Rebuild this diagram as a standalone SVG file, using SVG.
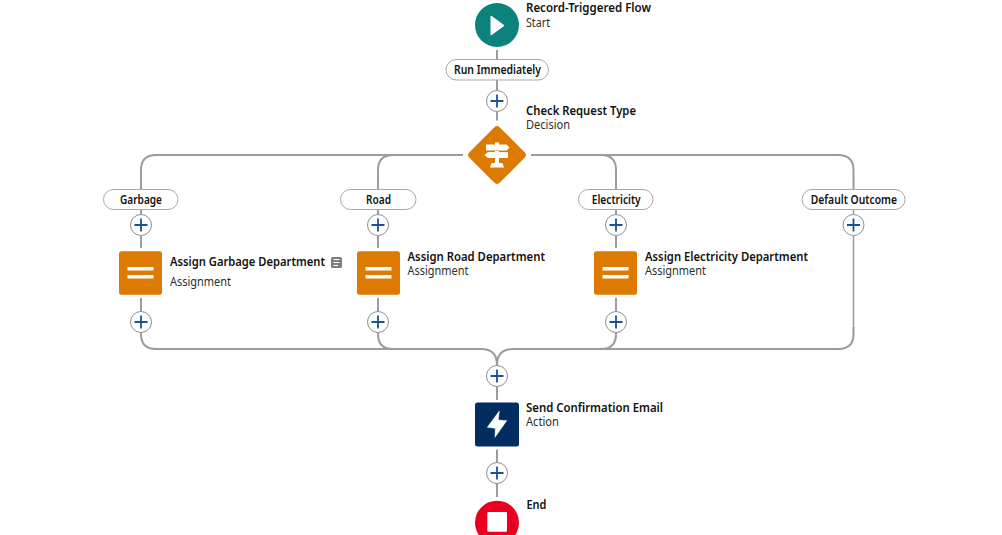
<svg xmlns="http://www.w3.org/2000/svg" width="1002" height="535" viewBox="0 0 1002 535">
<defs>
<style>
text{font-family:"Noto Sans","Open Sans","Liberation Sans",sans-serif;font-size:12px;fill:#111}
.t{font-weight:600}
.s{fill:#2e2e2e}
.pt{font-weight:600;font-size:12px}
.c{fill:none;stroke:#9c9c9c;stroke-width:2}
.thin{fill:none;stroke:#9c9c9c;stroke-width:1.500}
.pill{fill:#fff;stroke:#a8a8a8;stroke-width:1}
.pc{fill:#fff;stroke:#8f8f8f;stroke-width:1}
.pp{fill:none;stroke:#1b5297;stroke-width:1.800}
.bar{fill:#fff}
</style>
<g id="plus"><circle class="pc" r="10.5"/><path class="pp" d="M-6.500 0H6.500M0-6.500V6.500"/></g>
<g id="eq"><rect x="-21.500" y="-21.700" width="43" height="43.500" rx="2.500" fill="#dd7a01"/><rect class="bar" x="-13" y="-6" width="26" height="3.500"/><rect class="bar" x="-13" y="2" width="26" height="3.500"/></g>
</defs>
<rect width="1002" height="535" fill="#fff"/>
<g id="connectors">
<path class="c" d="M497 50V59M497 80V90M497 112V120.500"/>
<path class="c" d="M463 155H156Q141 155 141 170V190M463 155H393Q378 155 378 170V190"/>
<path class="c" d="M531 155H601Q616 155 616 170V190M531 155H838Q853.500 155 853.500 170V190"/>
<path class="c" d="M141 209V214M141 236V248M141 298V311M141 333V334Q141 349 156 349H481Q497 349 497 365"/>
<path class="c" d="M378 209V214M378 236V248M378 298V311M378 333V334Q378 349 393 349H481"/>
<path class="c" d="M616 209V214M616 236V248M616 298V311M616 333V334Q616 349 601 349H513Q497 349 497 365"/>
<path class="thin" d="M853.500 209V214M853.500 236V328"/>
<path class="c" d="M853.500 327V334Q853.500 349 838 349H601"/>
<path class="c" d="M497 365V366M497 387V400M497 449.500V462M497 484V497"/>
</g>
<g id="start"><circle cx="497" cy="25" r="22" fill="#0b827c"/><path d="M491 16V35L504 25.500Z" fill="#fff" stroke="#fff" stroke-width="1" stroke-linejoin="round"/>
<text class="t" x="526" y="12" textLength="125" lengthAdjust="spacingAndGlyphs">Record-Triggered Flow</text><text class="s" x="526" y="27" textLength="24" lengthAdjust="spacingAndGlyphs">Start</text></g>
<g id="run-immediately"><rect class="pill" x="446" y="59.500" width="102.500" height="20.500" rx="10.250"/><text class="pt" x="454" y="74" textLength="87" lengthAdjust="spacingAndGlyphs">Run Immediately</text></g>
<use href="#plus" x="497" y="101"/>
<g id="decision"><rect x="475.500" y="133.500" width="43" height="43" rx="4" fill="#dd7a01" transform="rotate(45 497 155)"/>
<path class="bar" d="M486 144.500H495V142.500H499V144.500H506.500L509.500 147.500L506.500 150.500H486ZM488 152H495V151H499V152H508V158H499V163H502.500L504 167.500H490L491.500 163H495V158H488L484.500 155Z"/>
<text class="t" x="526" y="115" textLength="110" lengthAdjust="spacingAndGlyphs">Check Request Type</text><text class="s" x="526" y="129" textLength="44" lengthAdjust="spacingAndGlyphs">Decision</text></g>
<g id="garbage-outcome"><rect class="pill" x="103.500" y="189.500" width="74.500" height="20" rx="10"/><text class="pt" x="120" y="204" textLength="42" lengthAdjust="spacingAndGlyphs">Garbage</text></g>
<use href="#plus" x="141" y="225"/>
<g id="assign-garbage"><use href="#eq" x="140.500" y="273"/>
<text class="t" x="170" y="266" textLength="155" lengthAdjust="spacingAndGlyphs">Assign Garbage Department</text><text class="s" x="170" y="286" textLength="61" lengthAdjust="spacingAndGlyphs">Assignment</text>
<rect x="331" y="257" width="11" height="11" rx="1.500" fill="#7e7e7e"/><path d="M333.500 259.500H339.500M333.500 262.500H339.500M333.500 265.500H338" stroke="#fff" stroke-width="1.200"/></g>
<use href="#plus" x="141" y="322"/>
<g id="road-outcome"><rect class="pill" x="340.500" y="189.500" width="75.500" height="20" rx="10"/><text class="pt" x="366" y="204" textLength="25" lengthAdjust="spacingAndGlyphs">Road</text></g>
<use href="#plus" x="378" y="225"/>
<g id="assign-road"><use href="#eq" x="378.500" y="273"/>
<text class="t" x="407.500" y="261" textLength="137.500" lengthAdjust="spacingAndGlyphs">Assign Road Department</text><text class="s" x="407.500" y="275" textLength="61" lengthAdjust="spacingAndGlyphs">Assignment</text></g>
<use href="#plus" x="378" y="322"/>
<g id="electricity-outcome"><rect class="pill" x="578.500" y="189.500" width="74.500" height="20" rx="10"/><text class="pt" x="591.700" y="204" textLength="49" lengthAdjust="spacingAndGlyphs">Electricity</text></g>
<use href="#plus" x="616" y="225"/>
<g id="assign-electricity"><use href="#eq" x="615.500" y="273"/>
<text class="t" x="645" y="261" textLength="163" lengthAdjust="spacingAndGlyphs">Assign Electricity Department</text><text class="s" x="645" y="275" textLength="61" lengthAdjust="spacingAndGlyphs">Assignment</text></g>
<use href="#plus" x="616" y="322"/>
<g id="default-outcome"><rect class="pill" x="802" y="189.500" width="103" height="20" rx="10"/><text class="pt" x="810.700" y="204" textLength="86.300" lengthAdjust="spacingAndGlyphs">Default Outcome</text></g>
<use href="#plus" x="853.500" y="225"/>
<use href="#plus" x="497" y="376"/>
<g id="send-email"><rect x="475" y="402.500" width="44" height="44" rx="2.500" fill="#032d60"/><path d="M499.300 411L487.300 427.300L495.300 428.300L495 437.300L506.700 420.700L498.300 420Z" fill="#fff" stroke="#fff" stroke-width="0.500" stroke-linejoin="round"/>
<text class="t" x="526" y="412" textLength="137" lengthAdjust="spacingAndGlyphs">Send Confirmation Email</text><text class="s" x="526" y="426" textLength="33" lengthAdjust="spacingAndGlyphs">Action</text></g>
<use href="#plus" x="497" y="473"/>
<g id="end"><circle cx="497" cy="522.700" r="22" fill="#ea001e"/><rect x="487.300" y="512" width="19.700" height="19.700" rx="1" fill="#fff"/>
<text class="t" x="526.500" y="509" textLength="20" lengthAdjust="spacingAndGlyphs">End</text></g>
</svg>
